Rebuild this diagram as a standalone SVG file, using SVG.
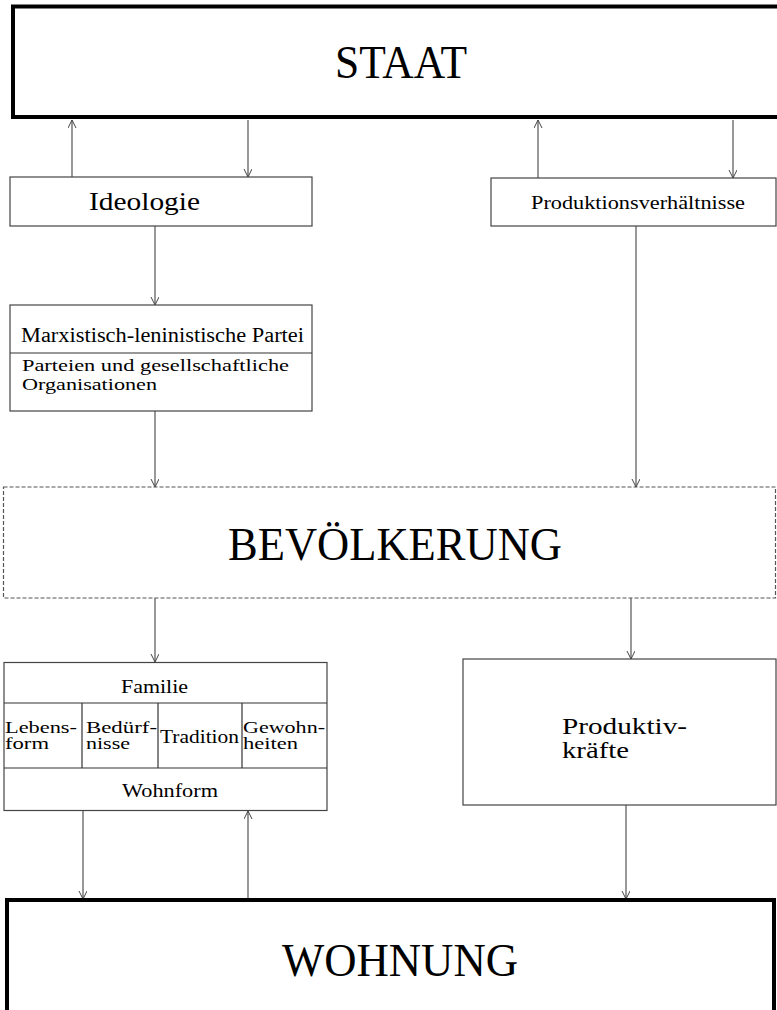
<svg xmlns="http://www.w3.org/2000/svg" width="777" height="1010" viewBox="0 0 777 1010">
<style>
  .box { fill: #fff; stroke: #444; stroke-width: 1.2; }
  .thick { fill: #fff; stroke: #000; stroke-width: 4; }
  .dash { fill: #fff; stroke: #555; stroke-width: 1.2; stroke-dasharray: 4 2; }
  .div { stroke: #333; stroke-width: 1.2; }
  .conn { stroke: #444; stroke-width: 1.1; fill: none; marker-end: url(#arr); }
  text { font-family: "Liberation Serif", "Times New Roman", serif; fill: #000; }
  .big { font-size: 46px; }
  .mid { font-size: 25px; }
  .sm { font-size: 19px; }
  .xs { font-size: 16px; }
</style>
<defs>
  <marker id="arr" markerUnits="userSpaceOnUse" markerWidth="10" markerHeight="10" refX="8" refY="4" orient="auto">
    <path d="M0,0 L8,4 L0,8" fill="none" stroke="#444" stroke-width="1"/>
  </marker>
</defs>
<rect width="777" height="1010" fill="#fff"/>

<g id="connectors">
  <line class="conn" x1="72" y1="177" x2="72" y2="120"/>
  <line class="conn" x1="248" y1="120" x2="248" y2="177"/>
  <line class="conn" x1="538" y1="178" x2="538" y2="120"/>
  <line class="conn" x1="733" y1="120" x2="733" y2="178"/>
  <line class="conn" x1="155" y1="226" x2="155" y2="305"/>
  <line class="conn" x1="155" y1="411" x2="155" y2="487"/>
  <line class="conn" x1="636" y1="226" x2="636" y2="487"/>
  <line class="conn" x1="155" y1="598" x2="155" y2="662"/>
  <line class="conn" x1="631" y1="598" x2="631" y2="659"/>
  <line class="conn" x1="83" y1="811" x2="83" y2="899"/>
  <line class="conn" x1="248" y1="899" x2="248" y2="811"/>
  <line class="conn" x1="626" y1="805" x2="626" y2="899"/>
</g>

<g id="staat">
  <rect class="thick" x="13" y="6.5" width="800" height="110.5"/>
  <text class="big" x="401" y="78" text-anchor="middle" textLength="132" lengthAdjust="spacingAndGlyphs">STAAT</text>
</g>

<g id="ideologie">
  <rect class="box" x="10" y="177" width="302" height="49"/>
  <text class="mid" x="89" y="210" textLength="111" lengthAdjust="spacingAndGlyphs">Ideologie</text>
</g>

<g id="produktionsverhaeltnisse">
  <rect class="box" x="491" y="178" width="285" height="48"/>
  <text x="531" y="209" font-size="19" textLength="214" lengthAdjust="spacingAndGlyphs">Produktionsverhältnisse</text>
</g>

<g id="partei">
  <rect class="box" x="10" y="305" width="302" height="106"/>
  <line class="div" x1="10" y1="353" x2="312" y2="353"/>
  <text x="21" y="342" font-size="20" textLength="283" lengthAdjust="spacingAndGlyphs">Marxistisch-leninistische Partei</text>
  <text x="22" y="371" font-size="17" textLength="267" lengthAdjust="spacingAndGlyphs">Parteien und gesellschaftliche</text>
  <text x="22" y="390" font-size="17" textLength="135" lengthAdjust="spacingAndGlyphs">Organisationen</text>
</g>

<g id="bevoelkerung">
  <rect class="dash" x="3.5" y="487" width="772" height="111"/>
  <text class="big" x="228" y="560" textLength="334" lengthAdjust="spacingAndGlyphs">BEVÖLKERUNG</text>
</g>

<g id="familie">
  <rect class="box" x="4" y="662.5" width="323" height="148"/>
  <line class="div" x1="4" y1="703" x2="327" y2="703"/>
  <line class="div" x1="4" y1="768" x2="327" y2="768"/>
  <line class="div" x1="82" y1="703" x2="82" y2="768"/>
  <line class="div" x1="158" y1="703" x2="158" y2="768"/>
  <line class="div" x1="242" y1="703" x2="242" y2="768"/>
  <text class="sm" x="121" y="693" textLength="67" lengthAdjust="spacingAndGlyphs">Familie</text>
  <text class="xs" x="5" y="733" textLength="72" lengthAdjust="spacingAndGlyphs">Lebens-</text>
  <text class="xs" x="5" y="749" textLength="44" lengthAdjust="spacingAndGlyphs">form</text>
  <text class="xs" x="86" y="733" textLength="71" lengthAdjust="spacingAndGlyphs">Bedürf-</text>
  <text class="xs" x="86" y="749" textLength="44" lengthAdjust="spacingAndGlyphs">nisse</text>
  <text class="sm" x="160" y="743" textLength="79" lengthAdjust="spacingAndGlyphs">Tradition</text>
  <text class="xs" x="243" y="733" textLength="82" lengthAdjust="spacingAndGlyphs">Gewohn-</text>
  <text class="xs" x="243" y="749" textLength="55" lengthAdjust="spacingAndGlyphs">heiten</text>
  <text class="sm" x="122" y="797" textLength="96" lengthAdjust="spacingAndGlyphs">Wohnform</text>
</g>

<g id="produktivkraefte">
  <rect class="box" x="463" y="659" width="313" height="146"/>
  <text x="562" y="734" font-size="23" textLength="125" lengthAdjust="spacingAndGlyphs">Produktiv-</text>
  <text x="562" y="758" font-size="23" textLength="67" lengthAdjust="spacingAndGlyphs">kräfte</text>
</g>

<g id="wohnung">
  <rect class="thick" x="7" y="900" width="767" height="130"/>
  <text class="big" x="282" y="976" textLength="236" lengthAdjust="spacingAndGlyphs">WOHNUNG</text>
</g>
</svg>
